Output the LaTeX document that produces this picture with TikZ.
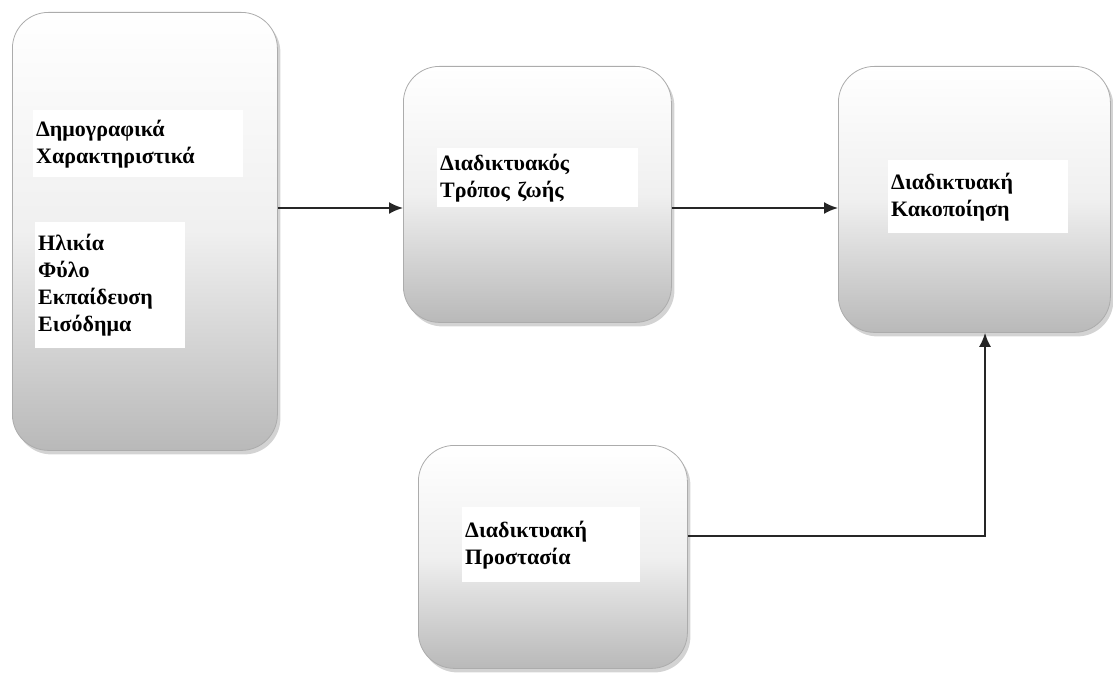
\documentclass[tikz,border=0pt]{standalone}
\usepackage{fontspec}
\setmainfont{Liberation Serif}
\usepackage{tikz}
\usetikzlibrary{positioning,shadows,arrows.meta}
\tikzstyle{diagram} = [x = 1pt, y = -1pt]
\tikzstyle{boxStyle} = [draw=gray!65, line width=.8pt, rounded corners=36pt, top color=white, bottom color=gray!55, middle color=gray!12, drop shadow={opacity=.35, shadow xshift=3pt, shadow yshift=-4pt}, anchor=north west, inner sep=0pt]
\tikzstyle{labelStyle} = [fill=white, anchor=north west, align=left, inner xsep=3pt, inner ysep=0pt, font=\fontsize{22}{27}\selectfont\bfseries]
\tikzstyle{arrowStyle} = [draw=black!85, line width=2pt, -{Latex[length=14pt, width=12pt]}]
\newcommand{\labelBox}[6]{\node [labelStyle, text width=#3 - 6, minimum height=#4] (#5) at (#1, #2) {#6};}

\begin{document}
\begin{tikzpicture}[diagram]
  \useasboundingbox (0,0) rectangle (1113,677);
  % boxes
  \node [boxStyle, minimum width=265, minimum height=438] (demographics) at (12,12) {};
  \node [boxStyle, minimum width=268, minimum height=256] (lifestyle) at (403,66) {};
  \node [boxStyle, minimum width=272, minimum height=266] (abuse) at (838,66) {};
  \node [boxStyle, minimum width=269, minimum height=223] (protection) at (418,445) {};
  % texts
  \labelBox{33}{110}{210}{67}{demoTitle}{Δημογραφικά\\Χαρακτηριστικά}
  \labelBox{35}{222}{150}{126}{demoList}{Ηλικία\\Φύλο\\Εκπαίδευση\\Εισόδημα}
  \labelBox{437}{148}{201}{59}{lifestyleText}{Διαδικτυακός\\Τρόπος ζωής}
  \labelBox{888}{160}{180}{73}{abuseText}{Διαδικτυακή\\Κακοποίηση}
  \labelBox{462}{507}{178}{75}{protectionText}{Διαδικτυακή\\Προστασία}
  % arrows
  \coordinate (arrowRow) at (0,208);
  \coordinate (bend) at (985,536);
  \draw [arrowStyle] (demographics.east |- arrowRow) -- (lifestyle.west |- arrowRow);
  \draw [arrowStyle] (lifestyle.east |- arrowRow) -- (abuse.west |- arrowRow);
  \draw [arrowStyle] (protection.east |- bend) -- (bend) -- (abuse.south -| bend);
\end{tikzpicture}
\end{document}
